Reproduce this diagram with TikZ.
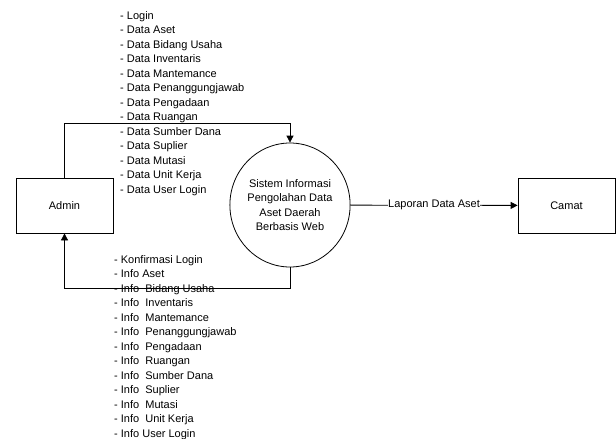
\documentclass[tikz,border=0pt]{standalone}
\usepackage{fontspec}
\setmainfont{Liberation Sans}
\usetikzlibrary{arrows.meta}
\usetikzlibrary{calc}
\usetikzlibrary{shapes.geometric}

\tikzset{
  entity/.style={draw, line width=0.8pt, minimum width=97pt, minimum height=55pt, inner sep=0pt},
  proses/.style={draw, ellipse, line width=0.8pt, minimum width=109pt, minimum height=124pt, inner sep=0pt, align=center},
  flow/.style={line width=0.8pt, -{Triangle[length=7pt,width=7pt]}},
  daftar/.style={inner sep=0pt, align=left, anchor=north west},
}

\begin{document}
\begin{tikzpicture}[x=1pt,y=-1pt,font=\fontsize{11}{14.5}\selectfont]
            \useasboundingbox (0,0) rectangle (616,439);
            \node[entity] (admin) at (64.5,205.5) {Admin};
            \node[entity] (camat) at (566.5,205.5) {Camat};
            \node[proses] (sis) at (290,205) {Sistem Informasi\\Pengolahan Data\\Aset Daerah\\Berbasis Web};
            % data masuk dari admin
            \draw[flow] (admin.north) |- ($(sis.north)+(0,-19)$) -- (sis.north);
            \node[daftar] (dataadmin) at (120,11) {- Login\\- Data Aset\\- Data Bidang Usaha\\- Data Inventaris\\- Data Mantemance\\- Data Penanggungjawab\\- Data Pengadaan\\- Data Ruangan\\- Data Sumber Dana\\- Data Suplier\\- Data Mutasi\\- Data Unit Kerja\\- Data User Login};
            % info kembali ke admin
            \draw[flow] (sis.south) |- ($(admin.south)+(0,55)$) -- (admin.south);
            \node[daftar] (infoadmin) at (114,255) {- Konfirmasi Login\\- Info Aset\\- Info\ \ Bidang Usaha\\- Info\ \ Inventaris\\- Info\ \ Mantemance\\- Info\ \ Penanggungjawab\\- Info\ \ Pengadaan\\- Info\ \ Ruangan\\- Info\ \ Sumber Dana\\- Info\ \ Suplier\\- Info\ \ Mutasi\\- Info\ \ Unit Kerja\\- Info User Login};
            % laporan ke camat
            \draw[flow] (sis) to node[fill=white, inner sep=0.5pt] (lap) {Laporan Data Aset} (camat);
        \end{tikzpicture}
\end{document}
